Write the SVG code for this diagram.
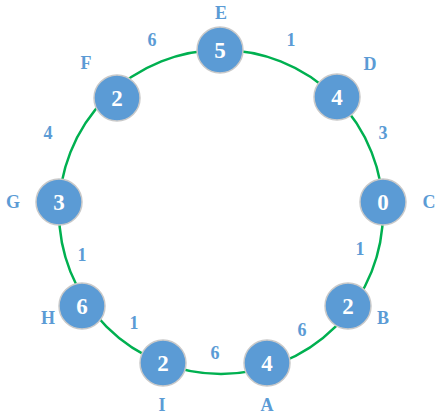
<svg xmlns="http://www.w3.org/2000/svg" width="442" height="419" viewBox="0 0 442 419">
<style>
.node{fill:#5B9BD5;stroke:#C9C9C9;stroke-width:1.5}
.num{font-family:"Liberation Serif",serif;font-weight:bold;font-size:23px;fill:#fff;text-anchor:middle;dominant-baseline:central}
.lbl{font-family:"Liberation Serif",serif;font-weight:bold;font-size:18px;fill:#5B9BD5;text-anchor:middle;dominant-baseline:central}
</style>
<rect width="442" height="419" fill="#fff"/>
<g id="connectors">
<circle cx="221" cy="212" r="162" fill="none" stroke="#00B050" stroke-width="2.5"/>
<text class="lbl" x="152" y="40">6</text>
<text class="lbl" x="291" y="40">1</text>
<text class="lbl" x="383" y="133">3</text>
<text class="lbl" x="360" y="249">1</text>
<text class="lbl" x="302" y="330">6</text>
<text class="lbl" x="215" y="353">6</text>
<text class="lbl" x="134" y="323">1</text>
<text class="lbl" x="82" y="255">1</text>
<text class="lbl" x="48" y="133">4</text>
</g>
<g id="E"><circle class="node" cx="220" cy="50" r="23"/><text class="num" x="220" y="50">5</text><text class="lbl" x="221" y="13">E</text></g>
<g id="D"><circle class="node" cx="337" cy="97" r="23"/><text class="num" x="337" y="97">4</text><text class="lbl" x="370" y="64">D</text></g>
<g id="C"><circle class="node" cx="383" cy="202" r="23"/><text class="num" x="383" y="202">0</text><text class="lbl" x="429" y="202">C</text></g>
<g id="B"><circle class="node" cx="348" cy="306" r="23"/><text class="num" x="348" y="306">2</text><text class="lbl" x="383" y="318">B</text></g>
<g id="A"><circle class="node" cx="267" cy="363" r="23"/><text class="num" x="267" y="363">4</text><text class="lbl" x="267" y="405">A</text></g>
<g id="I"><circle class="node" cx="163" cy="363" r="23"/><text class="num" x="163" y="363">2</text><text class="lbl" x="162" y="405">I</text></g>
<g id="H"><circle class="node" cx="82" cy="306" r="23"/><text class="num" x="82" y="306">6</text><text class="lbl" x="48" y="318">H</text></g>
<g id="G"><circle class="node" cx="59" cy="202" r="23"/><text class="num" x="59" y="202">3</text><text class="lbl" x="13" y="202">G</text></g>
<g id="F"><circle class="node" cx="117" cy="98" r="23"/><text class="num" x="117" y="98">2</text><text class="lbl" x="86" y="63">F</text></g>
</svg>
